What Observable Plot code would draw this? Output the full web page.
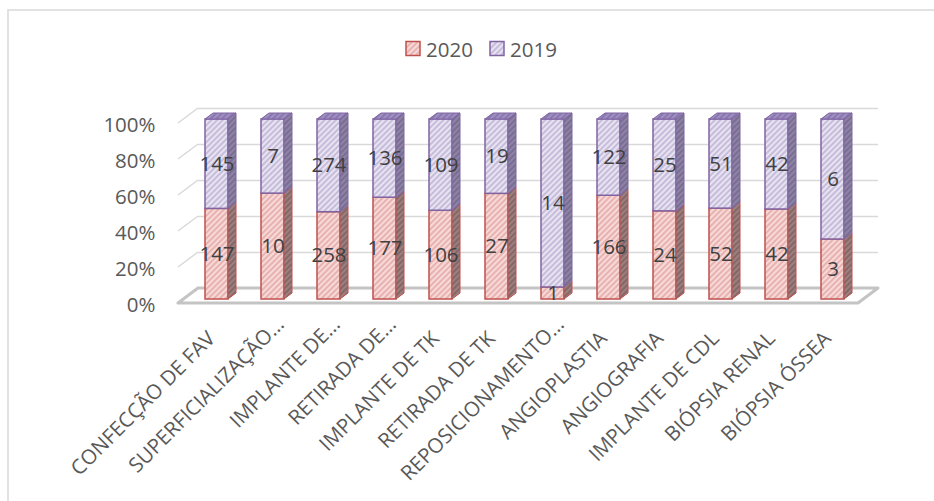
<!DOCTYPE html>
<html>
<head>
<meta charset="utf-8">
<script src="https://cdn.jsdelivr.net/npm/d3@7"></script>
<script src="https://cdn.jsdelivr.net/npm/@observablehq/plot@0.6"></script>
<style>
  html, body { margin: 0; padding: 0; background: #fff; }
  #chart { width: 934px; height: 501px; overflow: hidden; }
</style>
</head>
<body>
<svg width="0" height="0" style="position:absolute">
  <defs>
    <pattern id="pRed" patternUnits="userSpaceOnUse" width="4" height="4" patternTransform="rotate(45)">
      <rect width="4" height="4" fill="#f7d9d8"></rect>
      <line x1="1" y1="0" x2="1" y2="4" stroke="#df9d9b" stroke-width="1.3"></line>
    </pattern>
    <pattern id="pPurple" patternUnits="userSpaceOnUse" width="4" height="4" patternTransform="rotate(45)">
      <rect width="4" height="4" fill="#e8e3f1"></rect>
      <line x1="1" y1="0" x2="1" y2="4" stroke="#b4a8cf" stroke-width="1.3"></line>
    </pattern>
    <pattern id="pRedSide" patternUnits="userSpaceOnUse" width="4" height="4" patternTransform="rotate(45)">
      <rect width="4" height="4" fill="#9c7f7e"></rect>
      <line x1="1" y1="0" x2="1" y2="4" stroke="#755c5b" stroke-width="1.3"></line>
    </pattern>
    <pattern id="pPurpleSide" patternUnits="userSpaceOnUse" width="4" height="4" patternTransform="rotate(45)">
      <rect width="4" height="4" fill="#8e83a5"></rect>
      <line x1="1" y1="0" x2="1" y2="4" stroke="#6c6287" stroke-width="1.3"></line>
    </pattern>
    <pattern id="pPurpleTop" patternUnits="userSpaceOnUse" width="4" height="4" patternTransform="rotate(45)">
      <rect width="4" height="4" fill="#a090c2"></rect>
      <line x1="1" y1="0" x2="1" y2="4" stroke="#7c69a6" stroke-width="1.3"></line>
    </pattern>
  </defs>
</svg>
<div id="chart"></div>
<script>
// ---- data ----
const categories = [
  "CONFECÇÃO DE FAV",
  "SUPERFICIALIZAÇÃO…",
  "IMPLANTE DE…",
  "RETIRADA DE…",
  "IMPLANTE DE TK",
  "RETIRADA DE TK",
  "REPOSICIONAMENTO…",
  "ANGIOPLASTIA",
  "ANGIOGRAFIA",
  "IMPLANTE DE CDL",
  "BIÓPSIA RENAL",
  "BIÓPSIA ÓSSEA"
];
const values2020 = [147, 10, 258, 177, 106, 27, 1, 166, 24, 52, 42, 3];
const values2019 = [145, 7, 274, 136, 109, 19, 14, 122, 25, 51, 42, 6];
const seriesNames = ["2020", "2019"];
const yTicks = [0, 0.2, 0.4, 0.6, 0.8, 1];

// ---- derived table (100% stacked) ----
const rows = [];
categories.forEach((cat, i) => {
  const total = values2020[i] + values2019[i];
  const s = values2020[i] / total;
  rows.push({cat, year: "2020", value: values2020[i], y1: 0, y2: s});
  rows.push({cat, year: "2019", value: values2019[i], y1: s, y2: 1});
});

const style = {
  "2020": {front: "url(#pRed)", side: "url(#pRedSide)", top: "url(#pRed)", stroke: "#c0504d"},
  "2019": {front: "url(#pPurple)", side: "url(#pPurpleSide)", top: "url(#pPurpleTop)", stroke: "#8064a2"}
};

const BDX = 6, BDY = -4;     // bar front offset from front plane
const DDX = 8, DDY = -6;     // bar depth
const WDX = 20, WDY = -15;   // wall depth
const FONT = 20.5;

const isTruncated = c => c.endsWith("…");

// border
function border(index, scales, values, dims) {
  const g = d3.create("svg:g");
  g.append("path")
    .attr("d", `M8,${dims.height + 20}V10H${dims.width + 20}`)
    .attr("fill", "none").attr("stroke", "#d9d9d9").attr("stroke-width", 1.5);
  return g.node();
}

// left wall diagonals + floor
function walls(index, scales, values, dims) {
  const y = scales.y;
  const x0 = dims.marginLeft, x1 = dims.width - dims.marginRight;
  const g = d3.create("svg:g");
  yTicks.filter(t => t > 0).forEach(t => {
    g.append("line")
      .attr("x1", x0).attr("y1", y(t))
      .attr("x2", x0 + WDX).attr("y2", y(t) + WDY)
      .attr("stroke", "#d9d9d9").attr("stroke-width", 1.5);
  });
  const yb = y(0);
  g.append("path")
    .attr("d", `M${x0},${yb}L${x1},${yb}L${x1 + WDX},${yb + WDY}L${x0 + WDX},${yb + WDY}Z`)
    .attr("fill", "#ffffff").attr("stroke", "#c4c4c4").attr("stroke-width", 3)
    .attr("stroke-linejoin", "round");
  return g.node();
}

// 3D side and top faces
function faces(index, scales) {
  const x = scales.x, y = scales.y;
  const bw = x.bandwidth();
  const g = d3.create("svg:g");
  rows.forEach(r => {
    const st = style[r.year];
    const xl = x(r.cat) + BDX, xr = xl + bw;
    const yt = y(r.y2) + BDY, yb = y(r.y1) + BDY;
    g.append("path")
      .attr("d", `M${xr},${yb}L${xr + DDX},${yb + DDY}L${xr + DDX},${yt + DDY}L${xr},${yt}Z`)
      .attr("fill", st.side).attr("stroke", st.stroke).attr("stroke-width", 1)
      .attr("stroke-linejoin", "round");
    if (r.y2 === 1) {
      g.append("path")
        .attr("d", `M${xl},${yt}L${xl + DDX},${yt + DDY}L${xr + DDX},${yt + DDY}L${xr},${yt}Z`)
        .attr("fill", st.top).attr("stroke", st.stroke).attr("stroke-width", 1)
        .attr("stroke-linejoin", "round");
    }
  });
  return g.node();
}

// legend
function legend() {
  const g = d3.create("svg:g");
  const items = [{name: seriesNames[0], x: 406}, {name: seriesNames[1], x: 490}];
  items.forEach(it => {
    const st = style[it.name];
    g.append("rect").attr("x", it.x).attr("y", 41.5).attr("width", 14).attr("height", 14)
      .attr("fill", st.front).attr("stroke", st.stroke).attr("stroke-width", 1.5);
    g.append("text").attr("x", it.x + 20).attr("y", 48.5)
      .attr("text-anchor", "start")
      .attr("dominant-baseline", "central")
      .attr("font-size", FONT).attr("fill", "#595959").text(it.name);
  });
  return g.node();
}

const labelOpts = {x: d => d, text: d => d, frameAnchor: "bottom", rotate: -45, textAnchor: "end", lineAnchor: "top", fontSize: FONT, fill: "#595959"};

const chart = Plot.plot({
  width: 934,
  height: 501,
  marginLeft: 178,
  marginRight: 76,
  marginTop: 123,
  marginBottom: 198,
  style: {fontFamily: "'Open Sans', sans-serif", fontSize: FONT + "px", background: "transparent", color: "#595959", overflow: "visible"},
  x: {type: "band", domain: categories, paddingInner: 0.59, paddingOuter: 0.295, axis: null},
  y: {domain: [0, 1], axis: null},
  marks: [
    border,
    Plot.ruleY(yTicks, {y: d => d, dx: WDX, dy: WDY, stroke: "#d9d9d9", strokeWidth: 1.5}),
    walls,
    Plot.barY(rows.filter(r => r.year === "2020"), {x: "cat", y1: "y1", y2: "y2", fill: style["2020"].front, stroke: style["2020"].stroke, strokeWidth: 1.5, dx: BDX, dy: BDY}),
    Plot.barY(rows.filter(r => r.year === "2019"), {x: "cat", y1: "y1", y2: "y2", fill: style["2019"].front, stroke: style["2019"].stroke, strokeWidth: 1.5, dx: BDX, dy: BDY}),
    faces,
    Plot.text(rows, {x: "cat", y: d => (d.y1 + d.y2) / 2, text: d => String(d.value), dx: BDX, dy: BDY, fontSize: FONT, fill: "#404040"}),
    Plot.axisY({ticks: yTicks, tickFormat: d3.format(".0%"), tickSize: 0, tickPadding: 23, fontSize: FONT, label: null, dy: 2, fill: "#595959"}),
    Plot.text(categories.filter(c => !isTruncated(c)), {...labelOpts, dx: -5, dy: 26}),
    Plot.text(categories.filter(isTruncated), {...labelOpts, dx: 8, dy: 12}),
    legend
  ]
});
document.getElementById("chart").appendChild(chart);
</script>
</body>
</html>
